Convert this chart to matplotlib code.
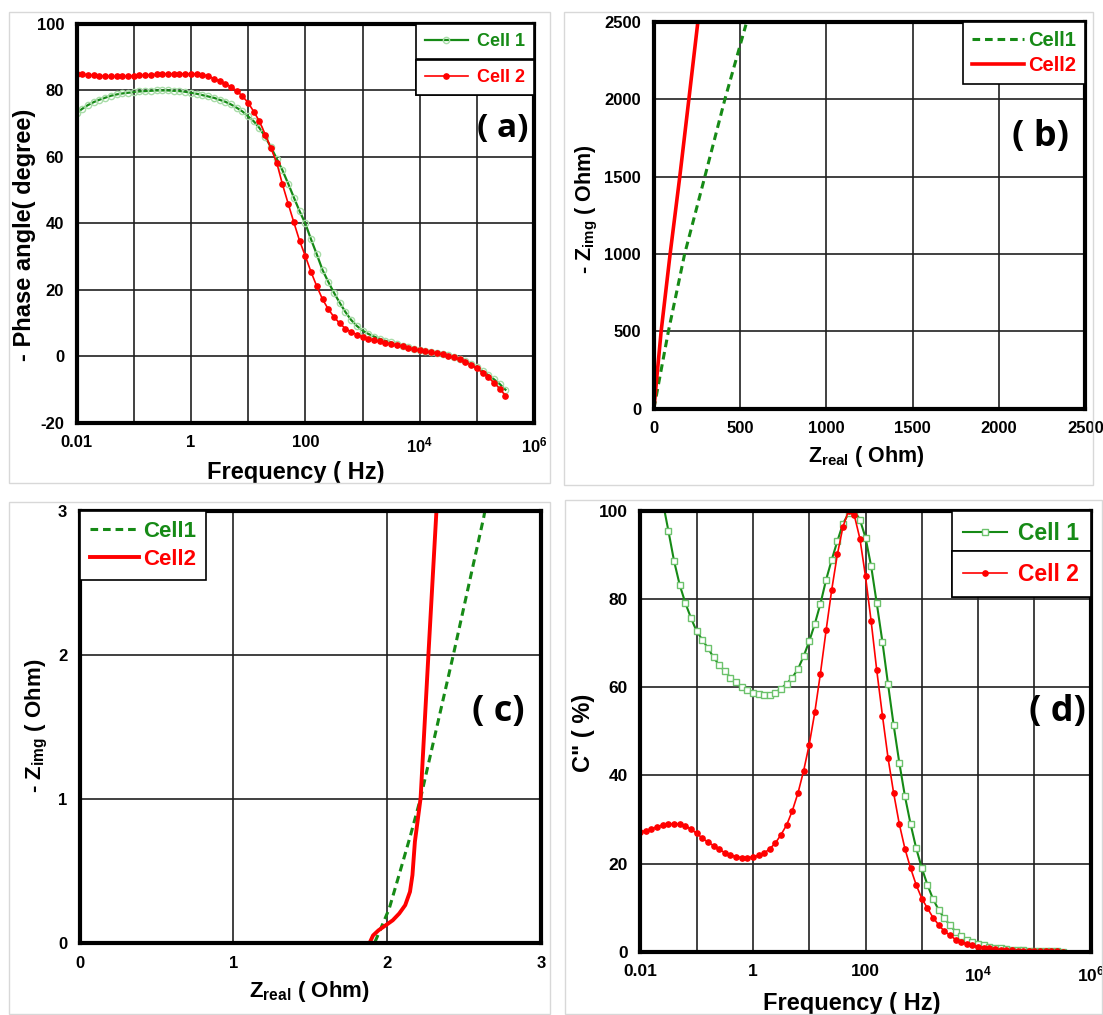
import numpy as np
import matplotlib
matplotlib.use('Agg')
import matplotlib.pyplot as plt
from matplotlib.ticker import FixedLocator, NullFormatter
from matplotlib.patches import Rectangle

plt.rcParams['font.family'] = ['Liberation Sans', 'DejaVu Sans']
plt.rcParams['font.weight'] = 'bold'
plt.rcParams['axes.unicode_minus'] = False
plt.rcParams['mathtext.fontset'] = 'custom'
plt.rcParams['mathtext.bf'] = 'Liberation Sans:bold'
plt.rcParams['mathtext.rm'] = 'Liberation Sans:bold'

GREEN = '#168a16'
LIGHT_GREEN = '#a8dca8'
RED = '#ff0000'

# measurement frequencies (Hz), 10 points per decade
freq = [0.01, 0.0126, 0.0158, 0.02, 0.0251, 0.0316, 0.0398, 0.0501, 0.0631, 0.0794,
        0.1, 0.126, 0.158, 0.2, 0.251, 0.316, 0.398, 0.501, 0.631, 0.794,
        1, 1.26, 1.58, 2, 2.51, 3.16, 3.98, 5.01, 6.31, 7.94,
        10, 12.6, 15.8, 20, 25.1, 31.6, 39.8, 50.1, 63.1, 79.4,
        100, 126, 158, 200, 251, 316, 398, 501, 631, 794,
        1e3, 1.26e3, 1.58e3, 2e3, 2.51e3, 3.16e3, 3.98e3, 5.01e3, 6.31e3, 7.94e3,
        1e4, 1.26e4, 1.58e4, 2e4, 2.51e4, 3.16e4, 3.98e4, 5.01e4, 6.31e4, 7.94e4,
        1e5, 1.26e5, 1.58e5, 2e5, 2.51e5, 3.16e5]

# (a) - phase angle (degree)
phase_cell1 = [73.2, 74.5, 75.6, 76.5, 77.2, 77.8, 78.4, 78.8, 79.1, 79.3,
               79.5, 79.7, 79.8, 79.9, 80.0, 80.0, 80.0, 79.9, 79.8, 79.6,
               79.3, 79.0, 78.6, 78.2, 77.8, 77.2, 76.6, 75.8, 74.8, 73.7,
               72.2, 70.7, 68.7, 66.0, 62.9, 59.5, 56.0, 52.0, 47.8, 43.7,
               40.0, 35.2, 30.8, 26.0, 22.5, 19.2, 16.2, 13.4, 11.0, 9.2,
               7.8, 6.8, 6.0, 5.3, 4.7, 4.2, 3.7, 3.2, 2.7, 2.3,
               1.9, 1.6, 1.3, 1.0, 0.7, 0.3, -0.1, -0.7, -1.3, -2.2,
               -3.3, -4.4, -5.6, -6.9, -8.3, -10.0]
phase_cell2 = [85.0, 84.9, 84.7, 84.5, 84.4, 84.3, 84.2, 84.2, 84.2, 84.3,
               84.4, 84.5, 84.6, 84.7, 84.8, 84.9, 85.0, 85.0, 85.0, 85.0,
               85.0, 84.9, 84.7, 84.4, 83.5, 82.9, 82.0, 81.1, 79.9, 78.3,
               76.3, 73.6, 70.7, 66.7, 62.6, 58.3, 51.8, 46.0, 40.3, 34.8,
               30.2, 25.4, 21.2, 17.2, 14.3, 11.9, 10.0, 8.4, 7.4, 6.6,
               5.9, 5.3, 4.9, 4.5, 4.1, 3.8, 3.4, 3.0, 2.6, 2.2,
               1.8, 1.5, 1.2, 0.9, 0.6, 0.2, -0.3, -0.9, -1.6, -2.5,
               -3.6, -4.9, -6.3, -7.9, -9.7, -11.8]

# (d) normalised imaginary capacitance C'' (%)
cimg_cell1 = [132, 124, 116, 109, 102, 95.4, 88.6, 83.2, 79.1, 75.7,
              72.7, 70.8, 68.9, 66.8, 65.0, 63.7, 62.2, 61.1, 60.1, 59.3,
              58.8, 58.4, 58.3, 58.3, 58.8, 59.7, 60.8, 62.2, 64.1, 67.0,
              70.4, 74.4, 78.9, 84.4, 88.9, 93.1, 97.1, 99.4, 100, 98,
              93.9, 87.4, 79.1, 70.2, 60.7, 51.4, 42.9, 35.3, 29.0, 23.5,
              19.0, 15.2, 12.0, 9.5, 7.6, 6.1, 4.6, 3.6, 2.8, 2.3,
              1.8, 1.5, 1.2, 1.0, 0.8, 0.65, 0.5, 0.4, 0.35, 0.3,
              0.25, 0.2, 0.18, 0.15, 0.12, 0.1]
cimg_cell2 = [27.2, 27.5, 27.9, 28.4, 28.8, 29.0, 29.0, 29.0, 28.6, 27.8,
              26.9, 25.8, 24.9, 24.1, 23.3, 22.5, 22.0, 21.6, 21.4, 21.4,
              21.5, 21.9, 22.4, 23.4, 24.7, 26.6, 28.8, 32.0, 36.0, 41.0,
              47.0, 54.4, 63.1, 73.0, 82.1, 90.1, 96.4, 100, 99, 93.7,
              85.1, 74.9, 63.9, 53.5, 44.0, 36.0, 29.0, 23.4, 19.0, 15.2,
              12.1, 9.9, 7.8, 6.1, 4.7, 3.8, 2.8, 2.3, 1.8, 1.5,
              1.2, 1.0, 0.8, 0.65, 0.5, 0.42, 0.35, 0.3, 0.25, 0.22,
              0.2, 0.18, 0.16, 0.14, 0.12, 0.1]

# (b), (c) Nyquist data (Ohm)
zreal_cell1 = [1.92, 1.967, 2.013, 2.083, 2.152, 2.217, 2.431, 2.628, 86, 180, 297, 413, 535]
zimg_cell1 = [0.007, 0.123, 0.239, 0.495, 0.75, 1.006, 2.006, 2.958, 500, 1000, 1500, 2000, 2483]
zreal_cell2 = [1.885, 1.908, 1.943, 1.99, 2.036, 2.078, 2.117, 2.148, 2.164, 2.18, 2.217, 2.268, 2.32,
               44, 96, 152, 204.5, 256.6]
zimg_cell2 = [0, 0.053, 0.088, 0.123, 0.158, 0.205, 0.263, 0.356, 0.472, 0.704, 1.006, 2.006, 3.0,
              500, 1000, 1500, 2000, 2500]

log_ticks = [1e-2, 1, 1e2, 1e4, 1e6]
log_labels = ['0.01', '1', '100', r'$\mathbf{10^{4}}$', r'$\mathbf{10^{6}}$']


def style_axes(ax, tick_fs):
    for s in ax.spines.values():
        s.set_linewidth(3)
        s.set_zorder(5)
    ax.tick_params(which='both', length=0, labelsize=tick_fs, pad=9)
    ax.grid(which='both', color='#202020', linewidth=1.2)
    ax.set_axisbelow(True)


def log_axis(ax):
    ax.set_xscale('log')
    ax.set_xlim(1e-2, 1e6)
    ax.xaxis.set_major_locator(FixedLocator(log_ticks))
    ax.set_xticklabels(log_labels)
    ax.xaxis.set_minor_locator(FixedLocator([0.1, 10, 1e3, 1e5]))
    ax.xaxis.set_minor_formatter(NullFormatter())


def labels(ax, xl, yl, fs, xpos, ypos):
    ax.set_xlabel(xl, fontsize=fs, fontweight='bold')
    ax.set_ylabel(yl, fontsize=fs, fontweight='bold')
    ax.xaxis.set_label_coords(*xpos)
    ax.yaxis.set_label_coords(*ypos)


def two_box_legend(ax, handles, labs, fs, step, hlen):
    tops = [1.0, 1.0 - step]
    for h, lab, top in zip(handles, labs, tops):
        leg = ax.legend([h], [lab], loc='upper right', bbox_to_anchor=(1, top),
                        borderaxespad=0, fancybox=False, framealpha=1, edgecolor='black',
                        prop={'size': fs, 'weight': 'bold'}, handlelength=hlen,
                        borderpad=0.5, handletextpad=0.5)
        leg.get_frame().set_linewidth(1.2)
        leg.get_texts()[0].set_color(h.get_color())
        leg.set_zorder(6)
        ax.add_artist(leg)


def line_legend(ax, handles, labs, loc, fs, hlen):
    leg = ax.legend(handles, labs, loc=loc, borderaxespad=0, fancybox=False,
                    framealpha=1, edgecolor='black', prop={'size': fs, 'weight': 'bold'},
                    handlelength=hlen, handletextpad=0.2, borderpad=0.45, labelspacing=0.3)
    leg.get_frame().set_linewidth(1.2)
    for t, h in zip(leg.get_texts(), handles):
        t.set_color(h.get_color())
    leg.set_zorder(6)


def tag(ax, text, x, y, fs):
    ax.text(x, y, text, transform=ax.transAxes, ha='center', va='center',
            fontsize=fs, fontweight='bold', family=['Open Sans', 'DejaVu Sans'], zorder=7)


fig = plt.figure(figsize=(11.03, 10.15), dpi=100)
fig.patch.set_facecolor('white')

# light grey panel frames
for (x0, y0, x1, y1) in [(9, 12, 550, 483), (564, 12, 1093, 485), (9, 502, 550, 1014), (565, 500, 1102, 1014)]:
    fig.add_artist(Rectangle((x0 / 1103, 1 - y1 / 1015), (x1 - x0) / 1103, (y1 - y0) / 1015,
                             transform=fig.transFigure, fill=False, edgecolor='#d8d8d8', linewidth=1))

# ---- (a) phase angle
ax_a = fig.add_axes([0.0694, 0.5833, 0.4148, 0.3931])
style_axes(ax_a, 12)
log_axis(ax_a)
la1, = ax_a.plot(freq, phase_cell1, color=GREEN, lw=1.6, marker='o', ms=4.5, mfc='none',
                 mec=LIGHT_GREEN, mew=1.0)
la2, = ax_a.plot(freq, phase_cell2, color=RED, lw=1.2, marker='o', ms=3.8, mfc=RED, mec=RED)
ax_a.set_ylim(-20, 100)
ax_a.yaxis.set_major_locator(FixedLocator([-20, 0, 20, 40, 60, 80, 100]))
labels(ax_a, 'Frequency ( Hz)', '- Phase angle( degree)', 17, (0.48, -0.095), (-0.089, 0.471))
two_box_legend(ax_a, [la1, la2], ['Cell 1', 'Cell 2'], 13, 0.091, 2.4)
tag(ax_a, '( a)', 0.931, 0.739, 24)

# ---- (b) Nyquist full
ax_b = fig.add_axes([0.5925, 0.5973, 0.3915, 0.381])
style_axes(ax_b, 12)
lb1, = ax_b.plot(zreal_cell1, zimg_cell1, color=GREEN, lw=2.2, ls=(0, (2.5, 1.6)))
lb2, = ax_b.plot(zreal_cell2, zimg_cell2, color=RED, lw=2.6)
ax_b.set_xlim(0, 2500)
ax_b.set_ylim(0, 2500)
ax_b.xaxis.set_major_locator(FixedLocator([0, 500, 1000, 1500, 2000, 2500]))
ax_b.yaxis.set_major_locator(FixedLocator([0, 500, 1000, 1500, 2000, 2500]))
labels(ax_b, r'Z$_{\mathbf{real}}$ ( Ohm)', r'- Z$_{\mathbf{img}}$ ( Ohm)', 15.5,
       (0.494, -0.091), (-0.124, 0.516))
line_legend(ax_b, [lb1, lb2], ['Cell1', 'Cell2'], 'upper right', 14.5, 2.6)
tag(ax_b, '( b)', 0.897, 0.703, 26)

# ---- (c) Nyquist high-frequency zoom
ax_c = fig.add_axes([0.0722, 0.0709, 0.4183, 0.4258])
style_axes(ax_c, 12)
lc1, = ax_c.plot(zreal_cell1, zimg_cell1, color=GREEN, lw=2.2, ls=(0, (2.5, 1.6)))
lc2, = ax_c.plot(zreal_cell2, zimg_cell2, color=RED, lw=2.8)
ax_c.set_xlim(0, 3)
ax_c.set_ylim(0, 3)
ax_c.xaxis.set_major_locator(FixedLocator([0, 1, 2, 3]))
ax_c.yaxis.set_major_locator(FixedLocator([0, 1, 2, 3]))
labels(ax_c, r'Z$_{\mathbf{real}}$ ( Ohm)', r'- Z$_{\mathbf{img}}$ ( Ohm)', 16,
       (0.497, -0.083), (-0.064, 0.502))
line_legend(ax_c, [lc1, lc2], ['Cell1', 'Cell2'], 'upper left', 16, 2.2)
tag(ax_c, '( c)', 0.908, 0.534, 26)

# ---- (d) imaginary capacitance
ax_d = fig.add_axes([0.5805, 0.0621, 0.4084, 0.4347])
style_axes(ax_d, 12.5)
log_axis(ax_d)
ld1, = ax_d.plot(freq, cimg_cell1, color=GREEN, lw=1.5, marker='s', ms=4.2, mfc='white',
                 mec='#6cc26c', mew=1.0)
ld2, = ax_d.plot(freq, cimg_cell2, color=RED, lw=1.2, marker='o', ms=3.8, mfc=RED, mec=RED)
ax_d.set_ylim(0, 100)
ax_d.yaxis.set_major_locator(FixedLocator([0, 20, 40, 60, 80, 100]))
labels(ax_d, 'Frequency ( Hz)', 'C" ( %)', 17, (0.469, -0.091), (-0.10, 0.496))
two_box_legend(ax_d, [ld1, ld2], ['Cell 1', 'Cell 2'], 16.5, 0.092, 1.9)
tag(ax_d, '( d)', 0.927, 0.543, 26)

fig.savefig('out.png', dpi=100, facecolor='white')
